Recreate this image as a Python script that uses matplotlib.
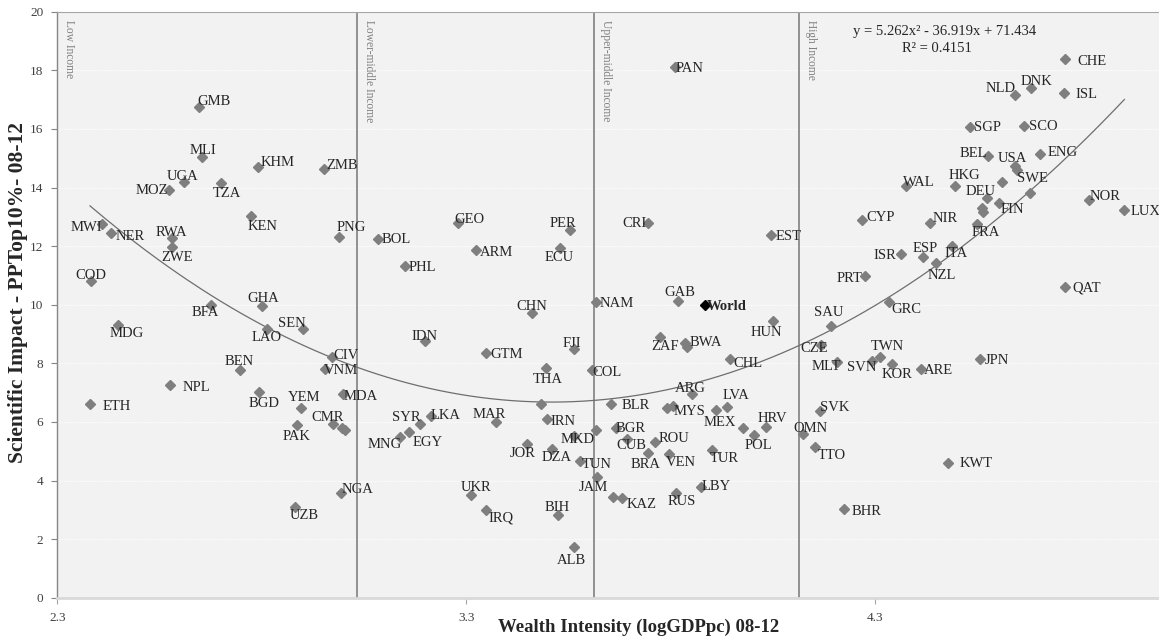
import matplotlib
matplotlib.use("Agg")
import matplotlib.pyplot as plt
import numpy as np

# ---------------- data ----------------
codes = ["GMB","MLI","KHM","ZMB","UGA","MOZ","TZA","KEN","MWI","NER","RWA","ZWE","COD","PNG","BOL",
         "BFA","GHA","MDG","SEN","LAO","CIV","VNM","BEN","NPL","BGD","MDA","ETH","YEM","PAK","CMR",
         "","","NGA","UZB","GEO","PER","CRI","ARM","ECU","PHL","CHN","NAM","IDN","FJI","GTM","THA",
         "COL","","BLR","SYR","LKA","MAR","MNG","EGY","IRN","MKD","","BGR","JOR","DZA","TUN","CUB",
         "ROU","BRA","JAM","","KAZ","UKR","IRQ","BIH","ALB","PAN","","MYS","MEX","LVA","HRV","",
         "POL","TUR","VEN","LBY","RUS","OMN","SVK","TTO","BHR","KWT","EST","GAB","HUN","ZAF","",
         "BWA","CHL","ARG","CYP","ISR","PRT","SAU","CZE","MLT","SVN","TWN","KOR","ARE","JPN","GRC",
         "QAT","NZL","ESP","ITA","NIR","FRA","CHE","NLD","DNK","ISL","SGP","SCO","BEL","USA","","",
         "SWE","ENG","WAL","HKG","DEU","","","FIN","NOR","LUX"]
wealth = [2.646,2.655,2.791,2.952,2.611,2.574,2.701,2.773,2.410,2.431,2.580,2.581,2.382,2.988,3.085,
          2.676,2.801,2.449,2.901,2.812,2.972,2.955,2.746,2.576,2.793,2.998,2.380,2.895,2.885,2.973,
          2.997,3.003,2.994,2.881,3.279,3.553,3.745,3.324,3.528,3.149,3.461,3.616,3.198,3.563,3.349,3.494,
          3.607,3.482,3.654,3.188,3.214,3.373,3.138,3.161,3.497,3.564,3.616,3.665,3.449,3.509,3.579,3.692,
          3.761,3.744,3.619,3.659,3.681,3.312,3.349,3.523,3.563,3.811,3.790,3.806,3.911,3.937,4.033,3.977,
          4.003,3.900,3.796,3.873,3.813,4.124,4.165,4.153,4.224,4.478,4.044,3.817,4.051,3.774,3.835,
          3.840,3.945,3.853,4.268,4.363,4.276,4.191,4.167,4.207,4.291,4.311,4.342,4.412,4.556,4.333,
          4.764,4.448,4.417,4.488,4.434,4.548,4.764,4.642,4.681,4.762,4.531,4.664,4.576,4.642,4.646,4.609,
          4.678,4.703,4.375,4.495,4.572,4.562,4.564,4.603,4.823,4.909]
impact = [16.76,15.03,14.69,14.63,14.18,13.91,14.14,13.03,12.74,12.46,12.29,11.98,10.80,12.30,12.24,
          9.98,9.96,9.30,9.16,9.18,8.20,7.82,7.76,7.26,7.01,6.96,6.61,6.46,5.89,5.93,
          5.78,5.71,3.58,3.08,12.80,12.55,12.78,11.86,11.95,11.31,9.72,10.08,8.75,8.50,8.35,7.83,
          7.77,6.61,6.61,5.92,6.21,5.99,5.50,5.64,6.10,5.52,5.72,5.79,5.24,5.06,4.68,5.41,
          5.33,4.93,4.13,3.45,3.39,3.50,2.98,2.82,1.72,18.12,6.46,6.55,6.41,6.52,5.84,5.80,
          5.55,5.04,4.89,3.79,3.58,5.59,6.37,5.13,3.02,4.61,12.38,10.14,9.45,8.91,8.70,
          8.57,8.14,6.95,12.89,11.72,10.98,9.28,8.63,8.03,8.09,8.23,7.98,7.80,8.15,10.08,
          10.61,11.41,11.62,12.00,12.80,12.74,18.39,17.15,17.39,17.24,16.05,16.11,15.09,14.74,14.60,14.20,
          13.82,15.14,14.06,14.06,13.63,13.29,13.15,13.46,13.57,13.23]

world_x, world_y = 3.884, 9.99

# income thresholds (logGDPpc)
income_x = [2.3, 3.032, 3.613, 4.113]
income_names = ["Low Income", "Lower-middle Income", "Upper-middle Income", "High Income"]

# trendline coefficients
coef = [5.262, -36.919, 71.434]
r2 = 0.4151

xticks = [2.3, 3.3, 4.3]
yticks = list(range(0, 21, 2))

# ---------------- label placement (pixels: dx right, dy down) ----------------
label_off = {
 "GMB":(15,-6),"MLI":(0,-8),"KHM":(19,-6),"ZMB":(18,-5),"UGA":(-2,-7),"MOZ":(-18,-1),"TZA":(6,9),
 "KEN":(12,9),"MWI":(-16,2),"NER":(19,3),"RWA":(0,-6),"ZWE":(5,10),"COD":(0,-7),"PNG":(13,-11),
 "BOL":(18,-1),"BFA":(-6,6),"GHA":(1,-9),"MDG":(8,7),"SEN":(-11,-7),"LAO":(0,7),"CIV":(14,-3),
 "VNM":(16,1),"BEN":(0,-10),"NPL":(26,1),"BGD":(5,10),"MDA":(18,1),"ETH":(27,1),"YEM":(3,-12),
 "PAK":(0,10),"CMR":(-5,-8),"NGA":(16,-5),"UZB":(9,7),"GEO":(12,-4),"PER":(-7,-8),"CRI":(-14,-1),
 "ARM":(20,1),"ECU":(0,9),"PHL":(18,0),"CHN":(0,-8),"NAM":(21,0),"IDN":(0,-6),"FJI":(-2,-6),
 "GTM":(20,0),"THA":(2,10),"COL":(15,1),"BLR":(25,0),"SYR":(-14,-8),"LKA":(14,-2),"MAR":(-7,-9),
 "MNG":(-15,7),"EGY":(18,9),"IRN":(16,1),"MKD":(3,2),"BGR":(15,-1),"JOR":(-5,8),"DZA":(5,7),
 "TUN":(16,3),"CUB":(5,5),"ROU":(19,-4),"BRA":(-2,10),"JAM":(-3,10),"KAZ":(19,5),"UKR":(5,-9),
 "IRQ":(15,6),"BIH":(0,-9),"ALB":(-2,12),"PAN":(14,0),"MYS":(16,4),"MEX":(4,11),"LVA":(9,-12),
 "HRV":(6,-9),"POL":(5,9),"TUR":(13,7),"VEN":(12,7),"LBY":(16,-1),"RUS":(6,7),"OMN":(7,-7),
 "SVK":(15,-5),"TTO":(17,7),"BHR":(22,1),"KWT":(28,0),"EST":(18,0),"GAB":(2,-9),"HUN":(-7,10),
 "ZAF":(5,9),"BWA":(19,-5),"CHL":(18,3),"ARG":(-2,-7),"CYP":(18,-4),"ISR":(-16,0),"PRT":(-16,1),
 "SAU":(-2,-15),"CZE":(-7,2),"MLT":(-11,3),"SVN":(-10,6),"TWN":(8,-11),"KOR":(5,9),"ARE":(17,0),
 "JPN":(17,0),"GRC":(18,6),"QAT":(22,0),"NZL":(6,11),"ESP":(2,-10),"ITA":(4,6),"NIR":(15,-5),
 "FRA":(9,7),"CHE":(27,1),"NLD":(-15,-8),"DNK":(5,-8),"ISL":(22,1),"SGP":(18,-1),"SCO":(19,0),
 "BEL":(-15,-3),"USA":(-3,-9),"SWE":(3,-16),"ENG":(23,-3),"WAL":(13,-5),"HKG":(9,-12),
 "DEU":(-6,-8),"FIN":(13,5),"NOR":(16,-5),"LUX":(21,0),
}

SERIF = ["Liberation Serif", "DejaVu Serif"]
plt.rcParams["font.family"] = SERIF

W, H = 1159, 638
fig = plt.figure(figsize=(W/100, H/100), dpi=100)
fig.patch.set_facecolor("white")
left, right, bottom, top = 57.3/W, 1.0, 1 - 597.7/H, 1 - 11.7/H
ax = fig.add_axes([left, bottom, right-left, top-bottom])
ax.set_facecolor("#f2f2f2")
xmax = 2.3 + (W - 57.3) / 409.0
ax.set_xlim(2.3, xmax)
ax.set_ylim(0, 20)

# grid
for yv in yticks[1:]:
    ax.axhline(yv, color="white", lw=0.8, ls=(0, (1, 1)), zorder=1)

# spines
ax.spines["right"].set_visible(False)
ax.spines["top"].set_color("#a6a6a6")
ax.spines["top"].set_linestyle((0, (1, 1)))
ax.spines["top"].set_linewidth(0.8)
ax.spines["left"].set_color("#868686")
ax.spines["left"].set_linewidth(1.0)
ax.spines["bottom"].set_color("#d9d9d9")
ax.spines["bottom"].set_linewidth(2.0)

# income lines & labels
for xv, name in zip(income_x, income_names):
    if xv > 2.3:
        ax.axvline(xv, color="#808080", lw=1.2, zorder=2)
    ax.annotate(name, (xv, 20), xytext=(12, -8), textcoords="offset pixels",
                rotation=-90, ha="center", va="top", fontsize=8.3, color="#7f7f7f",
                zorder=3)

# trendline
xs = np.linspace(min(wealth), max(wealth), 300)
ax.plot(xs, np.polyval(coef, xs), color="#6e6e6e", lw=0.9, zorder=3)

# points
ax.plot(wealth, impact, ls="none", marker="D", ms=5.0, color="#7f7f7f", mec="#7f7f7f", zorder=4)
ax.plot([world_x], [world_y], ls="none", marker="D", ms=5.0, color="black", zorder=5)

CAP = 4.8
for c, xv, yv in zip(codes, wealth, impact):
    if not c:
        continue
    dx, dy = label_off.get(c, (15, 0))
    ax.annotate(c, (xv, yv), xytext=(dx, -dy - CAP), textcoords="offset pixels",
                ha="center", va="baseline", fontsize=10.5, color="#262626", zorder=6,
                annotation_clip=False)
ax.annotate("World", (world_x, world_y), xytext=(22, -CAP), textcoords="offset pixels",
            ha="center", va="baseline", fontsize=10.5, color="#262626", fontweight="bold", zorder=6)

# equation
ax.text(945/W, 1 - 32/H, "y = %.3fx² - %.3fx + %.3f" % (coef[0], -coef[1], coef[2]),
        transform=fig.transFigure, ha="center", va="center", fontsize=10.5, color="#262626")
ax.text(936.7/W, 1 - 48.5/H, "R² = %.4f" % r2, transform=fig.transFigure,
        ha="center", va="center", fontsize=10.5, color="#262626")

# ticks
ax.set_xticks(xticks)
ax.set_xticklabels([f"{v:.1f}" for v in xticks])
ax.set_yticks(yticks)
ax.tick_params(axis="x", length=4, color="#a6a6a6", labelsize=9.5, labelcolor="#404040", pad=6)
ax.tick_params(axis="y", length=4, color="#868686", labelsize=9.5, labelcolor="#404040", pad=6)

# axis titles
fig.text(639/W, 1 - 627/H, "Wealth Intensity (logGDPpc) 08-12", fontsize=13.5, fontweight="bold",
         color="#262626", ha="center", va="center")
fig.text(18/W, 1 - 293/H, "Scientific Impact - PPTop10%- 08-12", fontsize=15.5, fontweight="bold",
         color="#262626", ha="center", va="center", rotation=90)

fig.savefig("out.png", dpi=100, facecolor="white")
